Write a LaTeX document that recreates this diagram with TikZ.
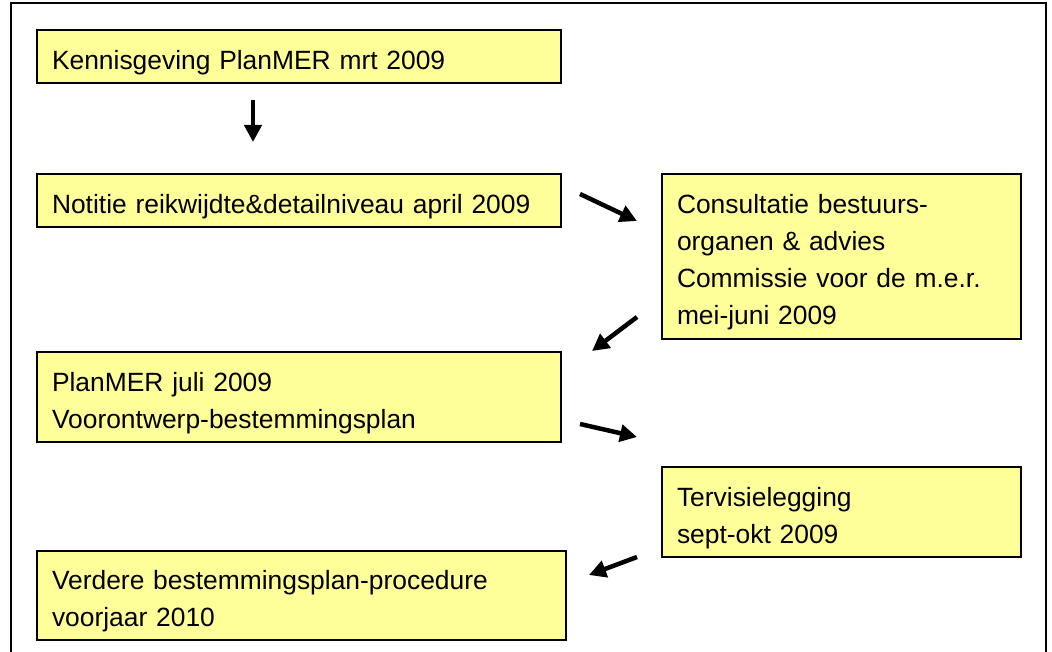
\documentclass[tikz,border=0pt]{standalone}
\usepackage{fontspec}
\setmainfont{Liberation Sans}
\usepackage{xcolor}
\usepackage{tikz}
\usetikzlibrary{calc,arrows.meta,positioning}
\definecolor{pyellow}{RGB}{255,255,153}
\tikzset{
  pbox/.style={draw, line width=2pt, fill=pyellow, anchor=north west, align=left, inner xsep=15pt, inner ysep=0pt, text height=31pt, font=\fontsize{26.4}{37}\selectfont},
  parr/.style={-{Triangle[length=17pt,width=17pt]}, line width=4.5pt}
}

\begin{document}
\begin{tikzpicture}[x=1pt,y=-1pt]
			\useasboundingbox (0,0) rectangle (1052,652);
			\draw[line width=1.5pt] (11,3) rectangle (1046,664);
			\node[pbox, text width=494pt, minimum height=53pt] (kenn) at (36,29) {Kennisgeving PlanMER mrt 2009};
			\node[pbox, text width=494pt, minimum height=53pt] (notitie) at (36,173) {Notitie reikwijdte\&detailniveau april 2009};
			\node[pbox, text width=329pt, minimum height=165pt] (consult) at (661,173) {Consultatie bestuurs-\\organen \& advies\\Commissie voor de m.e.r.\\mei-juni 2009};
			\node[pbox, text width=494pt, minimum height=90pt] (planmer) at (36,351) {PlanMER juli 2009\\Voorontwerp-bestemmingsplan};
			\node[pbox, text width=329pt, minimum height=90pt] (tervisie) at (661,466) {Tervisielegging\\sept-okt 2009};
			\node[pbox, text width=499pt, minimum height=89pt] (verdere) at (36,550) {Verdere bestemmingsplan-procedure\\voorjaar 2010};
			\coordinate (a1s) at (253,100);
			\coordinate (a1e) at (253,142);
			\coordinate (a2s) at (580,194);
			\coordinate (a2e) at (637,221);
			\coordinate (a3s) at (637,317);
			\coordinate (a3e) at (592,351);
			\coordinate (a4s) at (580,424);
			\coordinate (a4e) at (637,437);
			\coordinate (a5s) at (637,557);
			\coordinate (a5e) at (589,575);
			\draw[parr] (a1s) -- (a1e);
			\draw[parr] (a2s) -- (a2e);
			\draw[parr] (a3s) -- (a3e);
			\draw[parr] (a4s) -- (a4e);
			\draw[parr] (a5s) -- (a5e);
\end{tikzpicture}
\end{document}
